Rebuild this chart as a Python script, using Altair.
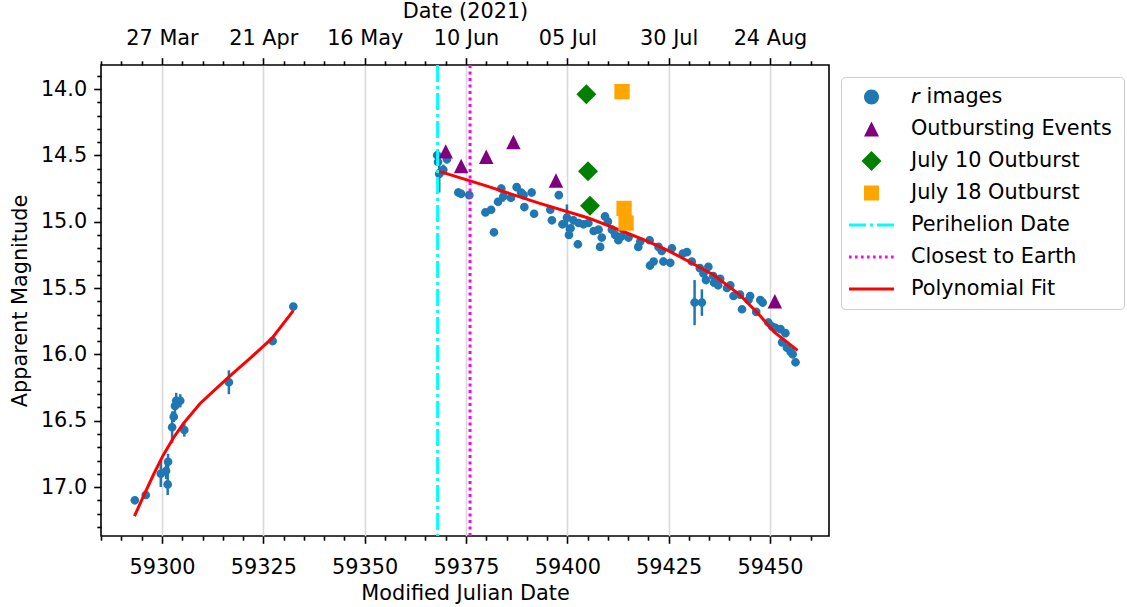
import altair as alt
import pandas as pd

# ---------------- data ----------------
r_mjd = [59293.3, 59296.0, 59299.7, 59301.0, 59301.5, 59301.4, 59302.5, 59302.9, 59303.2, 59303.5,
         59304.5, 59305.5, 59316.5, 59327.3, 59332.4,
         59367.9, 59368.1, 59368.4, 59369.4, 59370.3, 59373.1, 59373.8, 59375.8, 59379.8, 59381.2,
         59381.9, 59382.9, 59383.7, 59384.2, 59386.1, 59387.5, 59388.6, 59389.2, 59389.4, 59391.2,
         59391.8, 59395.8, 59396.2, 59397.9, 59398.8, 59399.9, 59400.4, 59400.8, 59401.5, 59402.6,
         59402.8, 59404.0, 59405.2, 59406.5, 59407.7, 59408.1, 59408.5, 59409.3, 59410.0, 59411.0,
         59411.8, 59412.6, 59413.4, 59415.1, 59417.5, 59418.0, 59420.3, 59420.4, 59421.3, 59422.5,
         59423.3, 59423.7, 59425.4, 59425.8, 59428.5, 59429.5, 59430.7, 59431.4, 59432.7, 59433.2,
         59433.6, 59434.2, 59434.8, 59436.0, 59436.2, 59437.2, 59437.7, 59439.4, 59440.2, 59441.0,
         59442.6, 59443.1, 59444.7, 59445.1, 59446.6, 59447.6, 59448.2, 59449.6, 59450.5, 59451.3,
         59452.6, 59453.0, 59453.8, 59454.2, 59455.1, 59455.6, 59456.3]
r_mag = [17.10, 17.06, 16.90, 16.88, 16.81, 16.98, 16.55, 16.47, 16.39, 16.35,
         16.35, 16.57, 16.21, 15.90, 15.64,
         14.50, 14.55, 14.64, 14.61, 14.53, 14.78, 14.79, 14.80, 14.93, 14.91,
         15.08, 14.85, 14.75, 14.81, 14.82, 14.74, 14.78, 14.80, 14.89, 14.78,
         14.94, 14.91, 14.99, 14.80, 15.02, 14.97, 15.10, 15.05, 14.99, 15.17,
         15.01, 15.02, 15.01, 15.07, 15.06, 15.19, 15.12, 14.96, 15.00, 15.06,
         15.10, 15.14, 15.11, 15.12, 15.19, 15.15, 15.14, 15.33, 15.30, 15.19,
         15.22, 15.30, 15.31, 15.20, 15.24, 15.23, 15.30, 15.61, 15.35, 15.61,
         15.39, 15.44, 15.34, 15.41, 15.46, 15.48, 15.43, 15.50, 15.48, 15.56,
         15.55, 15.66, 15.59, 15.56, 15.68, 15.59, 15.61, 15.76, 15.79, 15.80,
         15.81, 15.91, 15.84, 15.95, 15.98, 16.00, 16.06]
r_err = [0.02, 0.02, 0.10, 0.06, 0.06, 0.08, 0.12, 0.04, 0.06, 0.06,
         0.05, 0.05, 0.09, 0.02, 0.02,
         0.04, 0.03, 0.14, 0.04, 0.03, 0.03, 0.03, 0.02, 0.02, 0.02,
         0.02, 0.03, 0.03, 0.04, 0.02, 0.03, 0.02, 0.03, 0.03, 0.03,
         0.02, 0.02, 0.02, 0.03, 0.02, 0.10, 0.03, 0.02, 0.03, 0.03,
         0.02, 0.02, 0.02, 0.02, 0.02, 0.03, 0.02, 0.02, 0.02, 0.02,
         0.02, 0.02, 0.02, 0.02, 0.03, 0.02, 0.02, 0.03, 0.02, 0.02,
         0.02, 0.03, 0.02, 0.02, 0.02, 0.02, 0.02, 0.17, 0.02, 0.10,
         0.02, 0.02, 0.02, 0.02, 0.02, 0.02, 0.02, 0.02, 0.02, 0.02,
         0.02, 0.02, 0.02, 0.02, 0.02, 0.03, 0.03, 0.03, 0.03, 0.03,
         0.03, 0.02, 0.03, 0.02, 0.02, 0.02, 0.02]

out_mjd = [59370.0, 59373.8, 59380.0, 59386.7, 59397.2, 59451.2]
out_mag = [14.47, 14.58, 14.51, 14.40, 14.69, 15.60]

j10_mjd = [59404.7, 59405.1, 59405.6]
j10_mag = [14.04, 14.62, 14.88]

j18_mjd = [59413.5, 59414.0, 59414.5]
j18_mag = [14.02, 14.90, 15.01]

fit1_mjd = [59293.2, 59296.0, 59298.0, 59300.3, 59302.8, 59305.3, 59309.4, 59316.5, 59321.7,
            59327.1, 59332.4]
fit1_mag = [17.22, 17.03, 16.90, 16.76, 16.63, 16.52, 16.37, 16.17, 16.03, 15.88, 15.67]
fit2_mjd = [59367.8, 59380.0, 59393.0, 59405.0, 59413.5, 59420.0, 59425.0, 59430.0, 59436.0,
            59442.5, 59447.0, 59451.0, 59456.8]
fit2_mag = [14.615, 14.73, 14.86, 14.97, 15.07, 15.15, 15.22, 15.30, 15.40, 15.55, 15.69, 15.83, 15.97]

perihelion_mjd = [59368.0]
closest_mjd = [59376.0]

labels = ["𝘳 images", "Outbursting Events", "July 10 Outburst", "July 18 Outburst",
          "Perihelion Date", "Closest to Earth", "Polynomial Fit"]
colors = ["#1f77b4", "purple", "green", "orange", "cyan", "magenta", "red"]

# ---------------- tables ----------------
df_r = pd.DataFrame({"mjd": r_mjd, "mag": r_mag, "err": r_err})
df_r["lo"] = df_r["mag"] - df_r["err"]
df_r["hi"] = df_r["mag"] + df_r["err"]
df_r["series"] = labels[0]
df_out = pd.DataFrame({"mjd": out_mjd, "mag": out_mag})
df_j10 = pd.DataFrame({"mjd": j10_mjd, "mag": j10_mag})
df_j18 = pd.DataFrame({"mjd": j18_mjd, "mag": j18_mag})
df_fit = pd.concat([
    pd.DataFrame({"mjd": fit1_mjd, "mag": fit1_mag, "seg": "a"}),
    pd.DataFrame({"mjd": fit2_mjd, "mag": fit2_mag, "seg": "b"}),
])
df_peri = pd.DataFrame({"mjd": perihelion_mjd})
df_close = pd.DataFrame({"mjd": closest_mjd})

# ---------------- scales & axes ----------------
FONT = "DejaVu Sans"
FS = 20.8
xdom = [59284.95, 59464.56]
ydom = [13.819, 17.369]
xvals = list(range(59285, 59465, 5))
yvals = [round(13.9 + 0.1 * i, 1) for i in range(35)]

xmajor = "datum.value % 25 === 0"
ymajor = "abs(datum.value * 2 - round(datum.value * 2)) < 0.001"

xs = alt.Scale(domain=xdom, nice=False, zero=False)
xs_top = alt.Scale(domain=xdom, nice=False, zero=False)
ys = alt.Scale(domain=ydom, reverse=True, nice=False, zero=False)

common_axis = dict(domain=False, tickColor="black", tickWidth=1.6,
                   labelFont=FONT, labelFontSize=FS, labelColor="black",
                   titleFont=FONT, titleFontSize=FS, titleColor="black",
                   titleFontWeight="normal")

x_axis = alt.Axis(
    orient="bottom", values=xvals, title="Modified Julian Date",
    labelExpr=f"{xmajor} ? format(datum.value, 'd') : ''",
    tickSize={"condition": {"test": xmajor, "value": 7.3}, "value": 4.2},
    grid=True, gridColor="#d9d9d9", gridWidth=1.6,
    gridOpacity={"condition": {"test": xmajor, "value": 1}, "value": 0},
    labelPadding=14, titlePadding=6, labelFlush=False, labelOverlap=False,
    **common_axis)

x_axis_top = alt.Axis(
    orient="top", values=xvals, title="Date (2021)",
    labelExpr=f"{xmajor} ? utcFormat((datum.value - 40587) * 86400000, '%d %b') : ''",
    tickSize={"condition": {"test": xmajor, "value": 7.3}, "value": 4.2},
    grid=False, labelPadding=9, titlePadding=6, labelFlush=False, labelOverlap=False,
    **common_axis)

y_axis = alt.Axis(
    orient="left", values=yvals, title="Apparent Magnitude",
    labelExpr=f"{ymajor} ? format(datum.value, '.1f') : ''",
    tickSize={"condition": {"test": ymajor, "value": 7.3}, "value": 4.2},
    grid=False, labelPadding=7, titlePadding=10, labelOverlap=False,
    **common_axis)

X = alt.X("mjd:Q", scale=xs, axis=x_axis)
Y = alt.Y("mag:Q", scale=ys, axis=y_axis)

# ---------------- legend symbols (filled paths; lines drawn as thin bars) ----------------
def bars(segs, h=0.0667):
    return "".join(f"M{a:.3f},{-h}H{b:.3f}V{h}H{a:.3f}Z" for a, b in segs)

CIRC = "M0.333,0A0.333,0.333,0,1,1,-0.333,0A0.333,0.333,0,1,1,0.333,0Z"
TRI = "M0,-0.333L0.333,0.333L-0.333,0.333Z"
DIAM = "M0,-0.444L0.444,0L0,0.444L-0.444,0Z"
SQR = "M-0.333,-0.333H0.333V0.333H-0.333Z"
DASHDOT = bars([(-1, -0.244), (-0.067, 0.067), (0.244, 1)])
DOTS = bars([(-1 + k * 0.267, -1 + k * 0.267 + 0.116) for k in range(8)])
SOLID = bars([(-1, 1)])
shape_paths = [CIRC, TRI, DIAM, SQR, DASHDOT, DOTS, SOLID]

legend = alt.Legend(
    title="\u00a0", titleOrient="right", titlePadding=8, titleFontSize=FS, titleFont=FONT,
    orient="none", legendX=740, legendY=12,
    labelFont=FONT, labelFontSize=FS, labelColor="black", labelLimit=400,
    symbolSize=2025, symbolStrokeWidth=0, symbolOpacity=1,
    clipHeight=32, rowPadding=0, padding=4,
    symbolOffset=4, labelOffset=17,
    strokeColor="#cccccc", fillColor="white", cornerRadius=4,
)

# ---------------- layers ----------------
errbars = alt.Chart(df_r).mark_rule(color="#1f77b4", strokeWidth=2.5).encode(
    x=X, y=alt.Y("lo:Q", scale=ys, axis=y_axis), y2="hi:Q")

points = alt.Chart(df_r).mark_point(filled=True, size=680, opacity=1, strokeWidth=0).encode(
    x=X, y=Y,
    color=alt.Color("series:N", scale=alt.Scale(domain=labels, range=colors), legend=legend),
    shape=alt.Shape("series:N", scale=alt.Scale(domain=labels, range=shape_paths), legend=legend))

fit = alt.Chart(df_fit).mark_line(color="red", strokeWidth=3).encode(
    x=X, y=Y, detail="seg:N")

tri = alt.Chart(df_out).mark_point(filled=True, opacity=1, color="purple", strokeWidth=0,
                                   shape="M0,-1L1,1L-1,1Z", size=210).encode(x=X, y=Y)
dia = alt.Chart(df_j10).mark_point(filled=True, opacity=1, color="green", strokeWidth=0,
                                   shape="M0,-1L1,0L0,1L-1,0Z", size=400).encode(x=X, y=Y)
sqr = alt.Chart(df_j18).mark_point(filled=True, opacity=1, color="orange", strokeWidth=0,
                                   shape="square", size=234).encode(x=X, y=Y)

main = alt.layer(errbars, points, fit, tri, dia, sqr)

XT = alt.X("mjd:Q", scale=xs_top, axis=x_axis_top)
peri = alt.Chart(df_peri).mark_rule(color="cyan", strokeWidth=3, strokeDash=[17, 4, 3, 4]).encode(x=XT)
close = alt.Chart(df_close).mark_rule(color="magenta", strokeWidth=3, strokeDash=[3, 3.5]).encode(x=XT)
top = alt.layer(peri, close)

chart = alt.layer(main, top).resolve_scale(x="independent").properties(
    width=728, height=471,
    padding={"left": 101, "top": 65, "right": 298, "bottom": 71},
    autosize=alt.AutoSizeParams(type="none"),
    background="white",
).configure_view(stroke="black", strokeWidth=1.6)

chart.save("out.html", embed_options={"renderer": "svg", "actions": False})
